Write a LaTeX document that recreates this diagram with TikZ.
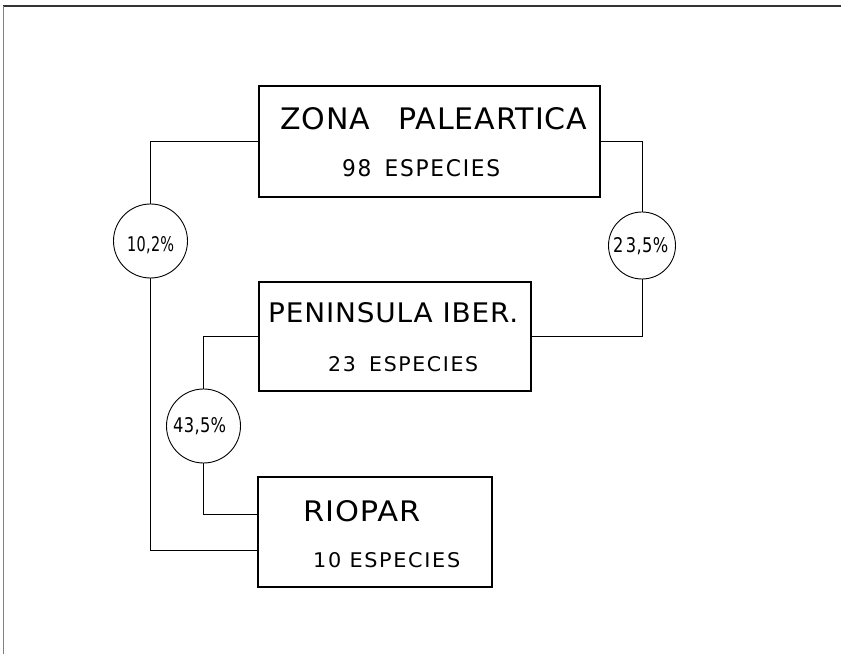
\documentclass[tikz,border=0pt]{standalone}
\usepackage{fontspec}
\usepackage{graphicx}
\newfontfamily\ttlfont[LetterSpace=3]{DejaVu Sans}
\newfontfamily\subfont[LetterSpace=8]{DejaVu Sans}
\newfontfamily\pctfont[LetterSpace=2]{DejaVu Sans}
\newcommand{\fitbox}[4]{\resizebox{#1pt}{#2pt}{#3#4}}
\begin{document}
\begin{tikzpicture}[x=1pt,y=1pt,
  box/.style={draw, line width=1.8pt, inner sep=0pt},
  pct/.style={circle, draw, line width=0.9pt, inner sep=0pt},
  conn/.style={line width=0.9pt},
  txt/.style={inner sep=0pt, anchor=base west},
  frame/.style={line width=1.4pt, black!80}]
\useasboundingbox (0,0) rectangle (841,654);
% frame
\coordinate (ftl) at (3,648);
\coordinate (ftr) at (841,648);
\coordinate (fbl) at (3,0);
\draw[frame] (ftl) -- (ftr);
\draw[line width=0.8pt, black!50] (ftl) -- (fbl);
% boxes
\node[box, minimum width=341pt, minimum height=111pt] (zona) at (429.5,512.5) {};
\node[box, minimum width=272pt, minimum height=109pt] (pen) at (395,317.5) {};
\node[box, minimum width=234pt, minimum height=110pt] (rio) at (375,122) {};
% circles
\node[pct, minimum size=74pt] (c1) at (150.5,413) {};
\node[pct, minimum size=67pt] (c2) at (642,408.5) {};
\node[pct, minimum size=74pt] (c3) at (203.5,228) {};
% texts
\node[txt] (tz) at (280,524) {\fitbox{307}{22}{\ttlfont}{ZONA\hspace{0.95em}PALEARTICA}};
\node[txt] (sz) at (342,477) {\fitbox{158}{17}{\subfont}{98\hspace{0.2em} ESPECIES}};
\node[txt] (tp) at (268,331) {\fitbox{250}{20}{\ttlfont}{PENINSULA IBER.}};
\node[txt] (sp) at (328,282) {\fitbox{150}{15}{\subfont}{23\hspace{0.25em} ESPECIES}};
\node[txt] (tr) at (303,133) {\fitbox{117}{21}{\ttlfont}{RIOPAR}};
\node[txt] (sr) at (313,87) {\fitbox{147}{15}{\subfont}{10 ESPECIES}};
\node[txt] (p1) at (127,402) {\fitbox{47}{15}{\pctfont}{10,2\%}};
\node[txt] (p2) at (613,401) {\fitbox{55}{15}{\pctfont}{2\hspace{0.15em}3,5\%}};
\node[txt] (p3) at (173,221) {\fitbox{53}{15}{\pctfont}{43,5\%}};
% connectors
\coordinate (r1) at ([yshift=-18pt]rio.west);
\coordinate (r2) at ([yshift=18pt]rio.west);
\draw[conn] (zona.west) -| (c1.north);
\draw[conn] (c1.south) |- (r1);
\draw[conn] (zona.east) -| (c2.north);
\draw[conn] (c2.south) |- (pen.east);
\draw[conn] (pen.west) -| (c3.north);
\draw[conn] (c3.south) |- (r2);
\end{tikzpicture}
\end{document}
